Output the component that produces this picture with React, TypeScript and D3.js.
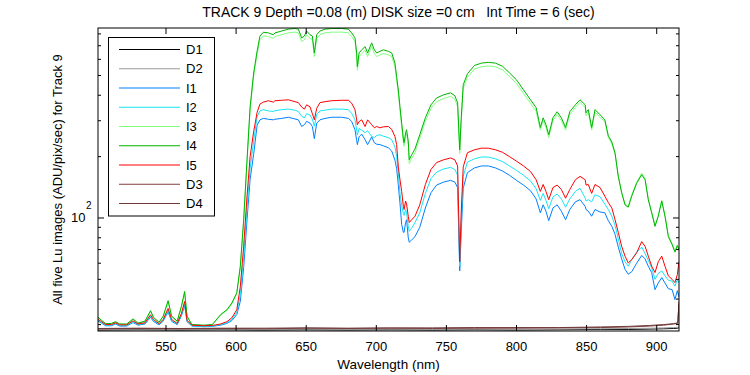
import React from 'react';
import * as d3 from 'd3';

const TITLE = 'TRACK 9 Depth =0.08 (m) DISK size =0 cm   Int Time = 6 (sec)';
const X_LABEL = 'Wavelength (nm)';
const Y_LABEL = 'All five Lu images (ADU/pix/sec) for Track 9';
const X_TICKS = [550, 600, 650, 700, 750, 800, 850, 900];
const Y_MAJOR = [100];
const Y_MINOR = [30, 40, 50, 60, 70, 80, 90, 200, 300, 400, 500, 600, 700, 800];

const WL = [
  501.5, 504, 507, 511, 514, 517, 522, 526.5, 530, 535,
  539, 541, 545, 548, 551.5, 554, 558, 561, 563.3, 565,
  568.5, 577, 583, 589, 593.5, 597, 600.5, 603, 605.4, 607.8,
  610, 612.5, 615, 617, 619.4, 623, 626.6, 627.7, 632.5, 637.3,
  642, 644.4, 646.8, 648.7, 650.3, 652.7, 654.4, 655.8, 657.5, 659.8,
  663.4, 668.2, 675.3, 680.1, 682.4, 684.8, 686, 686.5, 687.7, 689.6,
  692, 693.8, 696.7, 698.6, 700.3, 702.6, 705, 708.6, 711, 713.3,
  714.5, 715.7, 716.9, 718.1, 719.3, 719.8, 720.9, 721.6, 722.8, 723.5,
  725.2, 727.6, 731, 735, 739, 743, 748, 753, 756, 758,
  759.5, 760.5, 762, 765, 770, 775, 780, 785, 790, 795,
  800, 805, 810, 814, 817, 819, 821, 823, 826, 829,
  832, 835, 838, 842, 845.3, 849, 849.6, 851.2, 853.6, 856,
  859.6, 863, 865.5, 868, 870.3, 872.6, 875, 877.4, 879.7, 882.2,
  885.7, 889.3, 891.7, 894, 896.4, 898.8, 901.1, 903.6, 905.9, 908.3,
  911, 913, 914.7, 915.9,
];

const I1 = [
  31.2, 30.5, 29.6, 29.6, 30.2, 29.5, 29.5, 30.7, 29.8, 30.2,
  32.6, 31.1, 29.9, 31.2, 34.6, 31.1, 30.0, 33.1, 37.2, 31.0,
  29.5, 29.3, 29.4, 29.8, 30.4, 31.4, 33.6, 39, 57, 98,
  155, 205, 285, 303, 308, 305, 303, 305, 308, 312,
  306, 303, 281, 287, 298, 292, 281, 245, 292, 303,
  308, 312, 312, 308, 298, 271, 240, 229, 250, 258,
  242, 229, 250, 234, 230, 229, 226, 221, 213, 192,
  175, 145, 118, 93, 85, 85, 95, 98, 80, 76,
  78, 81, 90, 112, 133, 145, 150, 153, 150, 141,
  55, 83, 140, 167, 176, 180, 180, 176, 170, 162,
  153, 145, 136, 124, 106, 116, 108, 97, 112, 116,
  108, 98, 110, 120, 123, 114, 110, 108, 102, 110,
  107, 106, 97, 91, 83, 72, 63, 56, 53, 54.5,
  60, 65.5, 63, 58, 54, 44.5, 48, 51, 48, 45,
  44.5, 39.8, 44, 41,
];

const I2 = [
  31.5, 30.7, 29.8, 29.8, 30.4, 29.7, 29.7, 31.0, 30.0, 30.4,
  33.0, 31.4, 30.1, 31.5, 35.2, 31.4, 30.2, 33.5, 38.0, 31.2,
  29.6, 29.4, 29.5, 30.0, 30.6, 31.8, 34.5, 42, 64, 112,
  175, 238, 315, 335, 340, 335, 333, 336, 340, 342,
  338, 333, 315, 310, 325, 320, 305, 282, 322, 335,
  338, 342, 342, 340, 326, 303, 270, 255, 275, 270,
  262, 268, 251, 248, 254, 256, 252, 248, 242, 223,
  200, 166, 132, 115, 105, 103, 110, 106, 91, 86,
  89, 95, 106, 132, 156, 168, 174, 177, 173, 162,
  58, 95, 160, 188, 195, 199, 199, 195, 189, 180,
  171, 162, 152, 139, 122, 132, 122, 111, 127, 131,
  124, 113, 124, 135, 140, 125, 121, 123, 120, 130,
  127, 117, 110, 102, 92, 79, 67, 61, 58, 62.5,
  68, 72, 67, 62, 57, 50, 53.5, 55, 52, 49.5,
  49, 46.3, 50, 48,
];

const I3 = [
  32.4, 31.3, 30.2, 30.3, 30.8, 30.1, 30.1, 31.8, 30.4, 31.0,
  34.8, 32.4, 30.7, 32.8, 38.9, 32.8, 31.0, 36.5, 43.0, 32.8,
  29.9, 29.7, 29.9, 33.4, 35.2, 37.9, 42.5, 57, 96, 188,
  340, 495, 635, 748, 782, 777, 760, 777, 793, 810,
  816, 810, 734, 750, 793, 760, 750, 619, 760, 793,
  810, 816, 816, 810, 777, 734, 619, 531, 619, 641,
  665, 619, 694, 641, 619, 631, 641, 631, 619, 553,
  474, 408, 337, 280, 235, 225, 251, 260, 228, 185,
  196, 209, 246, 298, 345, 372, 386, 395, 382, 352,
  207, 291, 432, 490, 538, 552, 557, 552, 533, 494,
  457, 408, 365, 334, 270, 301, 278, 248, 301, 322,
  301, 270, 322, 348, 369, 348, 318, 330, 270, 330,
  312, 297, 248, 231, 206, 160, 134, 117, 114, 130,
  150, 166, 156, 124, 107, 92, 103, 122, 103, 82,
  75, 69, 74, 71,
];

const I4 = [
  32.6, 31.5, 30.3, 30.4, 31.0, 30.2, 30.2, 32.0, 30.5, 31.2,
  35.1, 32.6, 30.8, 33.0, 39.3, 33.0, 31.2, 36.9, 43.6, 33.0,
  30.0, 29.8, 30.0, 33.6, 35.5, 38.3, 43, 58, 98, 193,
  351, 514, 660, 780, 815, 809, 792, 809, 826, 844,
  850, 844, 765, 781, 826, 792, 781, 645, 792, 826,
  844, 850, 850, 844, 809, 765, 645, 553, 645, 668,
  693, 645, 723, 668, 645, 657, 668, 657, 645, 576,
  494, 425, 351, 292, 245, 234, 261, 271, 238, 193,
  204, 218, 256, 310, 359, 388, 402, 411, 398, 367,
  216, 303, 450, 510, 560, 575, 580, 575, 555, 515,
  476, 425, 380, 348, 278, 310, 287, 256, 310, 332,
  310, 278, 332, 359, 380, 359, 328, 340, 278, 340,
  321, 303, 253, 236, 208, 160, 133, 116, 113, 128,
  148, 163, 154, 123, 106, 91, 102, 121, 102, 81,
  74, 68, 73, 70,
];

const I5 = [
  31.8, 31.0, 30.0, 30.0, 30.6, 29.9, 29.9, 31.3, 30.2, 30.6,
  33.5, 31.8, 30.3, 31.8, 36.0, 31.8, 30.4, 34.0, 39.0, 31.5,
  29.8, 29.6, 29.7, 30.2, 31.0, 32.4, 35.5, 46, 72.6, 128,
  200, 265, 330, 362, 370, 376, 370, 376, 378, 380,
  372, 368, 350, 342, 359, 351, 325, 303, 345, 368,
  372, 376, 378, 378, 366, 340, 303, 287, 297, 303,
  281, 303, 287, 277, 281, 277, 280, 281, 272, 251,
  229, 178, 154, 135, 114, 110, 121, 117, 102, 95,
  98, 102, 116, 146, 173, 187, 193, 197, 193, 180,
  61, 104, 178, 209, 216, 220, 220, 216, 210, 200,
  190, 180, 169, 154, 135, 146, 135, 123, 141, 145,
  138, 125, 138, 154, 160, 154, 145, 146, 132, 146,
  141, 128, 119, 112, 98, 85, 72.6, 65, 60.2, 62.5,
  67.5, 76.6, 72.6, 65, 58, 54, 61, 65, 58, 52,
  50, 48.2, 52.7, 61,
];

const D_WL = [501.5, 530, 560, 590, 620, 650, 680, 710, 740, 770, 800, 830, 860, 880, 895, 905, 912, 915, 915.9];
const D1 = [28.2, 28.3, 28.2, 28.3, 28.2, 28.3, 28.2, 28.3, 28.2, 28.3, 28.2, 28.3, 28.4, 28.4, 28.5, 28.6, 28.7, 28.8, 29.0];
const D2 = [28.4, 28.5, 28.4, 28.5, 28.4, 28.5, 28.4, 28.5, 28.4, 28.5, 28.4, 28.5, 28.6, 28.7, 28.8, 28.9, 29.0, 29.1, 29.3];
const D3 = [28.6, 28.7, 28.6, 28.7, 28.6, 28.8, 28.7, 28.8, 28.7, 28.8, 28.8, 28.9, 29.0, 29.2, 29.5, 29.8, 30.2, 30.4, 39];
const D4 = [28.7, 28.8, 28.7, 28.8, 28.8, 28.9, 28.8, 28.9, 28.9, 29.0, 29.0, 29.0, 29.2, 29.4, 29.7, 30.0, 30.3, 30.6, 38];

const SERIES_NAMES = ['D1', 'D2', 'I1', 'I2', 'I3', 'I4', 'I5', 'D3', 'D4'];
const SERIES_COLORS = ['#000000', '#999999', '#0080ff', '#19e5f5', '#80ff80', '#00b400', '#ff0000', '#804040', '#703838'];

export default function App() {
  const W = 750, H = 375;
  const L = 98, R = 679, T = 28, B = 331;
  const x = d3.scaleLinear().domain([501.5, 915.9]).range([L, R]);
  const y = d3.scaleLog().domain([27.9, 855]).range([B, T]);

  const seriesData: [number[], number[]][] = [
    [D_WL, D1], [D_WL, D2], [WL, I1], [WL, I2], [WL, I3], [WL, I4], [WL, I5], [D_WL, D3], [D_WL, D4],
  ];

  const line = d3.line<[number, number]>().x(d => x(d[0])).y(d => y(d[1]));
  const font = '"Liberation Sans", Arial, Helvetica, sans-serif';

  const legX = 108.5, legY = 37.5, legW = 106, legH = 178.5;
  const rowH = 19.25;

  return (
    <svg width={W} height={H} style={{ position: 'absolute', left: 0, top: 0, background: '#fff' }} fontFamily={font}>
      <rect x={0} y={0} width={W} height={H} fill="#fff" />
      <defs>
        <clipPath id="plotclip">
          <rect x={L} y={T} width={R - L} height={B - T} />
        </clipPath>
      </defs>
      <g clipPath="url(#plotclip)">
        {seriesData.map(([wl, vals], i) => (
          <path
            key={SERIES_NAMES[i]}
            d={line(wl.map((w, k) => [w, vals[k]] as [number, number])) || ''}
            fill="none"
            stroke={SERIES_COLORS[i]}
            strokeWidth={1}
          />
        ))}
      </g>
      <rect x={L} y={T} width={R - L} height={B - T} fill="none" stroke="#000" strokeWidth={1} />
      {X_TICKS.map(t => (
        <g key={'xt' + t}>
          <line x1={x(t)} x2={x(t)} y1={B} y2={B - 6} stroke="#000" />
          <line x1={x(t)} x2={x(t)} y1={T} y2={T + 6} stroke="#000" />
          <text x={x(t)} y={B + 20} textAnchor="middle" fontSize={13}>{t}</text>
        </g>
      ))}
      {Y_MAJOR.map(t => (
        <g key={'ym' + t}>
          <line x1={L} x2={L + 6} y1={y(t)} y2={y(t)} stroke="#000" />
          <line x1={R} x2={R - 6} y1={y(t)} y2={y(t)} stroke="#000" />
          <text x={85.5} y={y(t) + 4.5} textAnchor="end" fontSize={13}>10</text>
          <text x={86} y={y(t) - 9} textAnchor="start" fontSize={10}>2</text>
        </g>
      ))}
      {Y_MINOR.map(t => (
        <g key={'yn' + t}>
          <line x1={L} x2={L + 3} y1={y(t)} y2={y(t)} stroke="#000" />
          <line x1={R} x2={R - 3} y1={y(t)} y2={y(t)} stroke="#000" />
        </g>
      ))}
      <rect x={legX} y={legY} width={legW} height={legH} fill="#fff" stroke="#000" strokeWidth={1} />
      {SERIES_NAMES.map((n, i) => {
        const ry = legY + 12 + i * rowH;
        return (
          <g key={'lg' + n}>
            <line x1={119} x2={180} y1={ry} y2={ry} stroke={SERIES_COLORS[i]} strokeWidth={1} />
            <text x={186} y={ry + 4.5} fontSize={13}>{n}</text>
          </g>
        );
      })}
      <text x={398.5} y={17} textAnchor="middle" fontSize={14} style={{ whiteSpace: 'pre' }}>{TITLE}</text>
      <text x={(L + R) / 2} y={369} textAnchor="middle" fontSize={13.5}>{X_LABEL}</text>
      <text transform={`translate(62, ${(T + B) / 2}) rotate(-90)`} textAnchor="middle" fontSize={13}>{Y_LABEL}</text>
    </svg>
  );
}
